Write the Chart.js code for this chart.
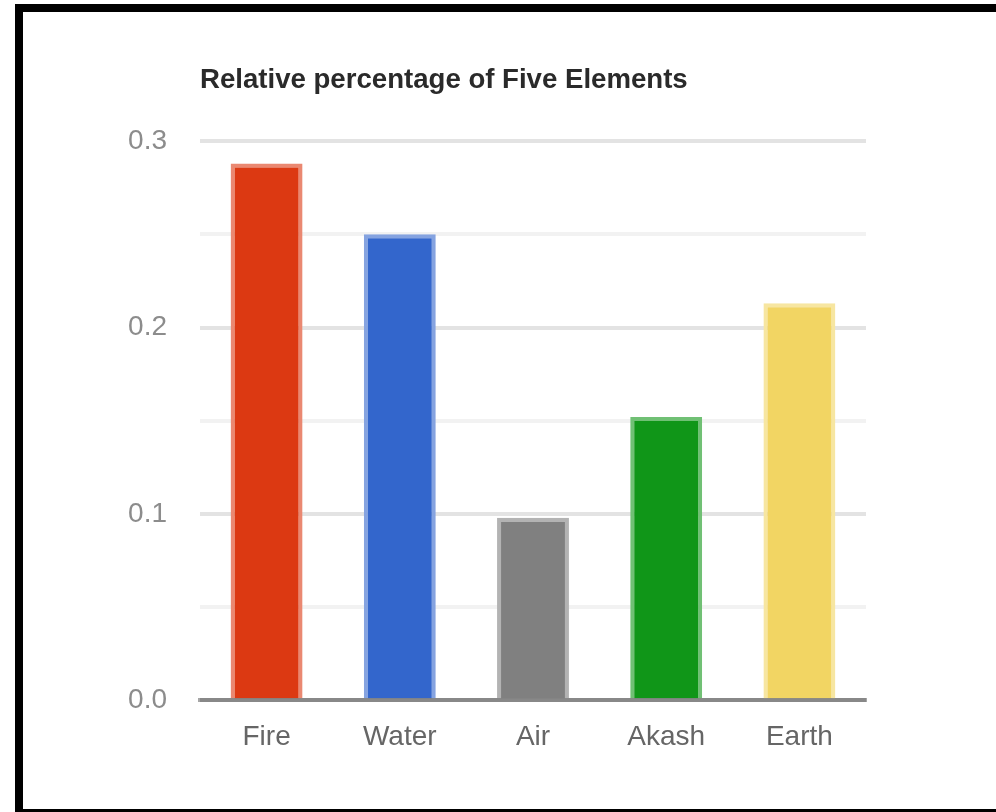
<!DOCTYPE html>
<html>
<head>
<meta charset="utf-8">
<title>Relative percentage of Five Elements</title>
<script src="https://cdn.jsdelivr.net/npm/chart.js@4/dist/chart.umd.min.js"></script>
<style>
  html, body { margin: 0; padding: 0; background: #ffffff; }
  body { width: 996px; height: 812px; position: relative; overflow: hidden; }
  #frame {
    position: absolute; left: 15px; top: 4px;
    width: 1000px; height: 797px;
    border-left: 8px solid #000; border-top: 8px solid #000; border-bottom: 3px solid #000;
  }
  #chart { position: absolute; left: 0; top: 0; }
</style>
</head>
<body>
<div id="frame"></div>
<canvas id="chart" width="996" height="812"></canvas>
<script>
// Element names and their relative share
const categories = ['Fire', 'Water', 'Air', 'Akash', 'Earth'];
const shares = [0.288, 0.25, 0.098, 0.152, 0.213];
const barColors = ['#dc3912', '#3366cc', '#808080', '#109618', '#f2d563'];
const barEdges = ['#ea8871', '#85a3e0', '#b3b3b3', '#70c074', '#f7e6a1'];
const yTickLabels = ['0.0', '0.1', '0.2', '0.3'];

const FONT = "'Liberation Sans', Arial, sans-serif";

function isMajor(v) {
  return Math.abs(v * 10 - Math.round(v * 10)) < 1e-6;
}

new Chart(document.getElementById('chart'), {
  type: 'bar',
  data: {
    labels: categories,
    datasets: [{
      data: shares,
      backgroundColor: barColors,
      borderColor: barEdges,
      borderWidth: { left: 4, right: 4, top: 4, bottom: 0 },
      borderSkipped: 'start',
      categoryPercentage: 1,
      barPercentage: 0.54
    }]
  },
  options: {
    responsive: false,
    animation: false,
    devicePixelRatio: 1,
    layout: { padding: { left: 0, right: 130, top: 0, bottom: 38 } },
    plugins: {
      legend: { display: false },
      tooltip: { enabled: false },
      title: {
        display: true,
        text: 'Relative percentage of Five Elements',
        align: 'start',
        fullSize: false,
        color: '#2a2a2a',
        font: { family: FONT, size: 27.6, weight: 'bold', lineHeight: 1.2 },
        padding: { top: 64, bottom: 44 }
      }
    },
    scales: {
      x: {
        grid: { display: false, drawTicks: false },
        border: { display: true, color: 'rgba(118,118,118,0.65)', width: 4, z: 1 },
        ticks: {
          color: '#666666',
          font: { family: FONT, size: 28 },
          padding: 20
        }
      },
      y: {
        min: 0,
        max: 0.3,
        afterFit: (scale) => { scale.width = 200; },
        border: { display: false },
        grid: {
          drawTicks: false,
          lineWidth: 4,
          color: (ctx) => {
            const v = ctx.tick ? ctx.tick.value : 0;
            if (Math.abs(v) < 1e-9) return '#a8a8a8';
            return isMajor(v) ? '#e3e3e3' : '#f2f2f2';
          }
        },
        ticks: {
          stepSize: 0.05,
          color: '#8c8c8c',
          font: { family: FONT, size: 28 },
          padding: 33,
          callback: (v) => isMajor(v) ? yTickLabels[Math.round(v * 10)] : ''
        }
      }
    }
  }
});
</script>
</body>
</html>
